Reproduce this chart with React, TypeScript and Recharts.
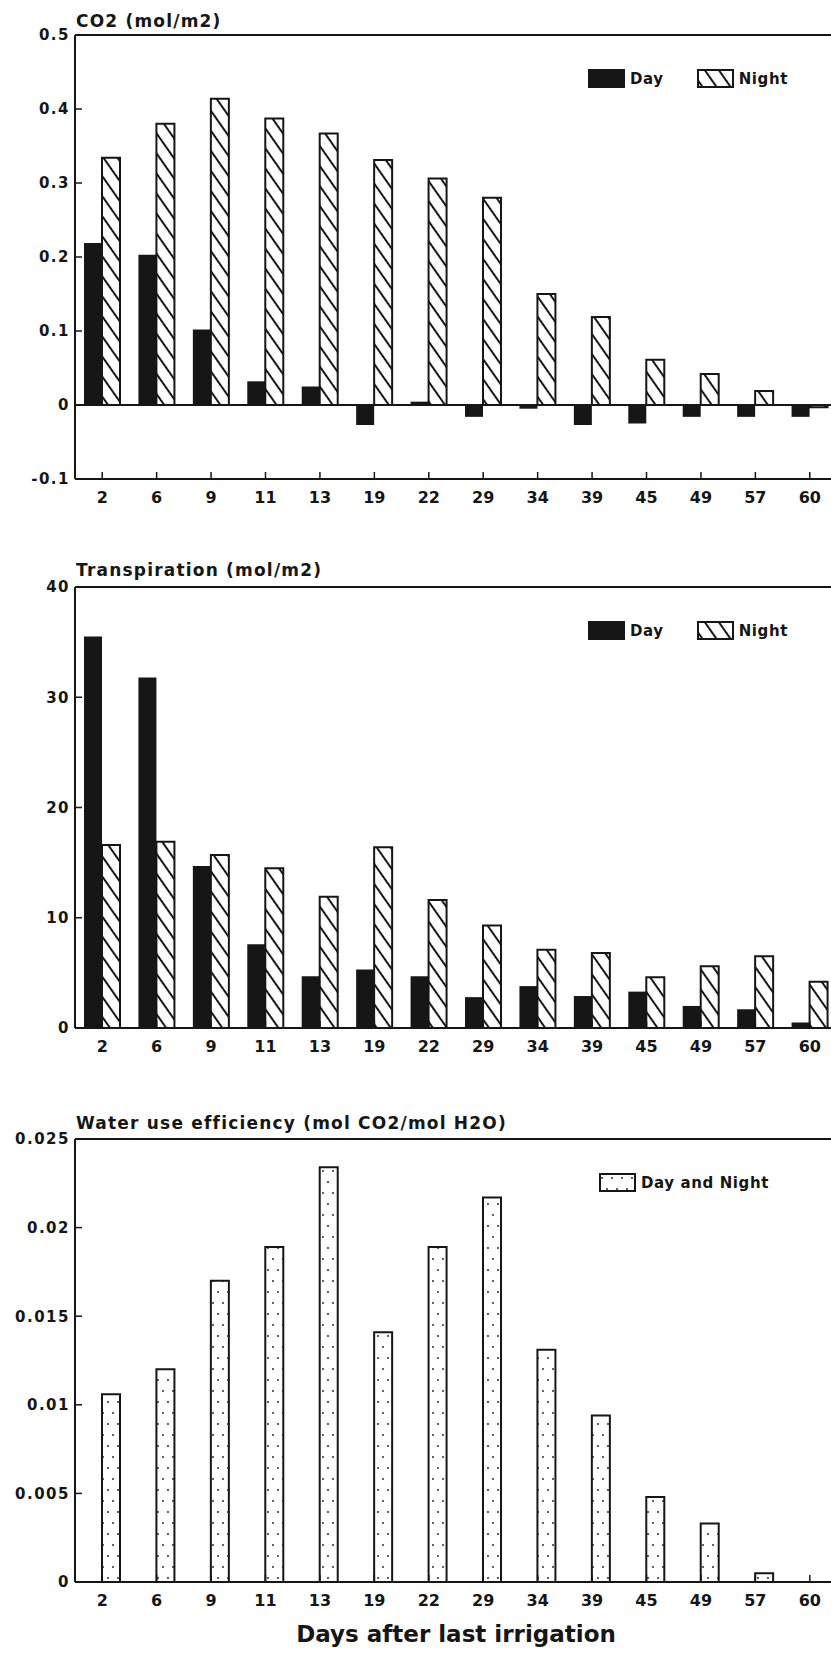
import { BarChart, Bar, XAxis, YAxis, Legend, ReferenceLine } from 'recharts';

const days = ['2', '6', '9', '11', '13', '19', '22', '29', '34', '39', '45', '49', '57', '60'];

// CO2 exchange (mol/m2)
const co2Day = [0.219, 0.203, 0.102, 0.032, 0.025, -0.027, 0.0045, -0.016, -0.005, -0.027, -0.025, -0.016, -0.016, -0.016];
const co2Night = [0.334, 0.38, 0.414, 0.387, 0.367, 0.331, 0.306, 0.28, 0.15, 0.119, 0.061, 0.042, 0.019, -0.003];
const co2Ticks = [-0.1, 0, 0.1, 0.2, 0.3, 0.4, 0.5];

// Transpiration (mol/m2)
const trDay = [35.5, 31.8, 14.7, 7.6, 4.7, 5.3, 4.7, 2.8, 3.8, 2.9, 3.3, 2.0, 1.7, 0.5];
const trNight = [16.6, 16.9, 15.7, 14.5, 11.9, 16.4, 11.6, 9.3, 7.1, 6.8, 4.6, 5.6, 6.5, 4.2];
const trTicks = [0, 10, 20, 30, 40];

// Water use efficiency (mol CO2/mol H2O)
const wue = [0.0106, 0.012, 0.017, 0.0189, 0.0234, 0.0141, 0.0189, 0.0217, 0.0131, 0.0094, 0.0048, 0.0033, 0.0005, 0];
const wueTicks = [0, 0.005, 0.01, 0.015, 0.02, 0.025];

const co2Data = days.map((d, i) => ({ day: d, dayVal: co2Day[i], night: co2Night[i] }));
const trData = days.map((d, i) => ({ day: d, dayVal: trDay[i], night: trNight[i] }));
const wueData = days.map((d, i) => ({ day: d, both: wue[i] }));

const INK = '#161616';
const FONT = '"DejaVu Sans", sans-serif';

const xTick = { fill: INK, fontSize: 16, fontWeight: 700, fontFamily: FONT };
const yTick = { fill: INK, fontSize: 15, fontWeight: 700, fontFamily: FONT, letterSpacing: 1.5 };
const axisLine = { stroke: INK, strokeWidth: 2 };
const tickLine = { stroke: INK, strokeWidth: 1.5 };

const fmt = (v: number) => String(v);

function Patterns() {
  return (
    <defs>
      <pattern id="hatch" patternUnits="userSpaceOnUse" width={11.5} height={11.5} patternTransform="rotate(-35)">
        <rect width={11.5} height={11.5} fill="#fff" />
        <line x1={5.75} y1={0} x2={5.75} y2={11.5} stroke={INK} strokeWidth={2} />
      </pattern>
      <pattern id="dots" patternUnits="userSpaceOnUse" width={10} height={22}>
        <rect width={10} height={22} fill="#fff" />
        <circle cx={3} cy={5} r={0.9} fill={INK} />
        <circle cx={8} cy={16} r={0.9} fill={INK} />
      </pattern>
    </defs>
  );
}

// legend with boxed swatches; the empty slot bar of the last panel is skipped
const LegendBox = ({ payload }: any) => (
  <div style={{ display: 'flex', alignItems: 'center', fontFamily: FONT, fontWeight: 700, fontSize: 15, letterSpacing: 0.6, color: INK }}>
    {(payload || [])
      .filter((e: any) => e.type !== 'none' && e.dataKey !== 'slot')
      .map((e: any) => (
        <div key={e.value} style={{ display: 'flex', alignItems: 'center', marginRight: 33 }}>
          <svg width={37} height={19} style={{ display: 'block' }}>
            <rect x={1} y={1} width={35} height={17} fill={e.color} stroke={INK} strokeWidth={2} />
          </svg>
          <span style={{ marginLeft: 5, whiteSpace: 'nowrap' }}>{e.value}</span>
        </div>
      ))}
  </div>
);

const titleStyle = (top: number): React.CSSProperties => ({
  position: 'absolute',
  left: 76,
  top,
  fontFamily: FONT,
  fontWeight: 700,
  fontSize: 17,
  lineHeight: '17px',
  letterSpacing: 1.2,
  color: INK,
  whiteSpace: 'nowrap',
});

export default function App() {
  return (
    <div style={{ position: 'absolute', left: 0, top: 0, width: 831, height: 1654, overflow: 'hidden', background: '#fff' }}>
      <div style={titleStyle(13)}>CO2 (mol/m2)</div>
      <div style={{ position: 'absolute', left: 0, top: 0 }}>
        <BarChart width={838} height={530} data={co2Data} margin={{ top: 35, right: 1, left: 15, bottom: 11 }} barGap={0}>
          <Patterns />
          <XAxis dataKey="day" height={40} interval={0} tick={xTick} tickSize={-7} tickMargin={20} axisLine={axisLine} tickLine={tickLine} />
          <YAxis width={60} domain={[-0.1, 0.5]} ticks={co2Ticks} interval={0} tickFormatter={fmt} tick={yTick} tickSize={-7} tickMargin={12} axisLine={axisLine} tickLine={tickLine} />
          <ReferenceLine y={0.5} stroke={INK} strokeWidth={2} />
          <ReferenceLine y={0} stroke={INK} strokeWidth={2} />
          <Legend layout="horizontal" verticalAlign="middle" align="center" content={LegendBox} wrapperStyle={{ left: 588, top: 69, width: 240 }} />
          <Bar dataKey="dayVal" name="Day" fill={INK} barSize={18} isAnimationActive={false} />
          <Bar dataKey="night" name="Night" fill="url(#hatch)" stroke={INK} strokeWidth={2} barSize={18} isAnimationActive={false} />
        </BarChart>
      </div>

      <div style={titleStyle(562)}>Transpiration (mol/m2)</div>
      <div style={{ position: 'absolute', left: 0, top: 540 }}>
        <BarChart width={838} height={540} data={trData} margin={{ top: 47, right: 1, left: 15, bottom: 12 }} barGap={0}>
          <Patterns />
          <XAxis dataKey="day" height={40} interval={0} tick={xTick} tickSize={-7} tickMargin={20} axisLine={axisLine} tickLine={tickLine} />
          <YAxis width={60} domain={[0, 40]} ticks={trTicks} interval={0} tickFormatter={fmt} tick={yTick} tickSize={-7} tickMargin={12} axisLine={axisLine} tickLine={tickLine} />
          <ReferenceLine y={40} stroke={INK} strokeWidth={2} />
          <Legend layout="horizontal" verticalAlign="middle" align="center" content={LegendBox} wrapperStyle={{ left: 588, top: 81, width: 240 }} />
          <Bar dataKey="dayVal" name="Day" fill={INK} barSize={18} isAnimationActive={false} />
          <Bar dataKey="night" name="Night" fill="url(#hatch)" stroke={INK} strokeWidth={2} barSize={18} isAnimationActive={false} />
        </BarChart>
      </div>

      <div style={titleStyle(1115)}>Water use efficiency (mol CO2/mol H2O)</div>
      <div style={{ position: 'absolute', left: 0, top: 1100 }}>
        <BarChart width={838} height={554} data={wueData} margin={{ top: 39, right: 1, left: 15, bottom: 0 }} barGap={0}>
          <Patterns />
          <XAxis
            dataKey="day"
            height={72}
            interval={0}
            tick={xTick}
            tickSize={-7}
            tickMargin={20}
            axisLine={axisLine}
            tickLine={tickLine}
            label={{ value: 'Days after last irrigation', position: 'insideBottom', offset: 12, style: { fill: INK, fontSize: 23, fontWeight: 700, fontFamily: FONT } }}
          />
          <YAxis width={60} domain={[0, 0.025]} ticks={wueTicks} interval={0} tickFormatter={fmt} tick={yTick} tickSize={-7} tickMargin={12} axisLine={axisLine} tickLine={tickLine} />
          <ReferenceLine y={0.025} stroke={INK} strokeWidth={2} />
          <Legend layout="horizontal" verticalAlign="middle" align="center" content={LegendBox} wrapperStyle={{ left: 599, top: 73, width: 240 }} />
          <Bar dataKey="slot" legendType="none" fill="none" barSize={18} isAnimationActive={false} />
          <Bar dataKey="both" name="Day and Night" fill="url(#dots)" stroke={INK} strokeWidth={2} barSize={18} isAnimationActive={false} />
        </BarChart>
      </div>
    </div>
  );
}
